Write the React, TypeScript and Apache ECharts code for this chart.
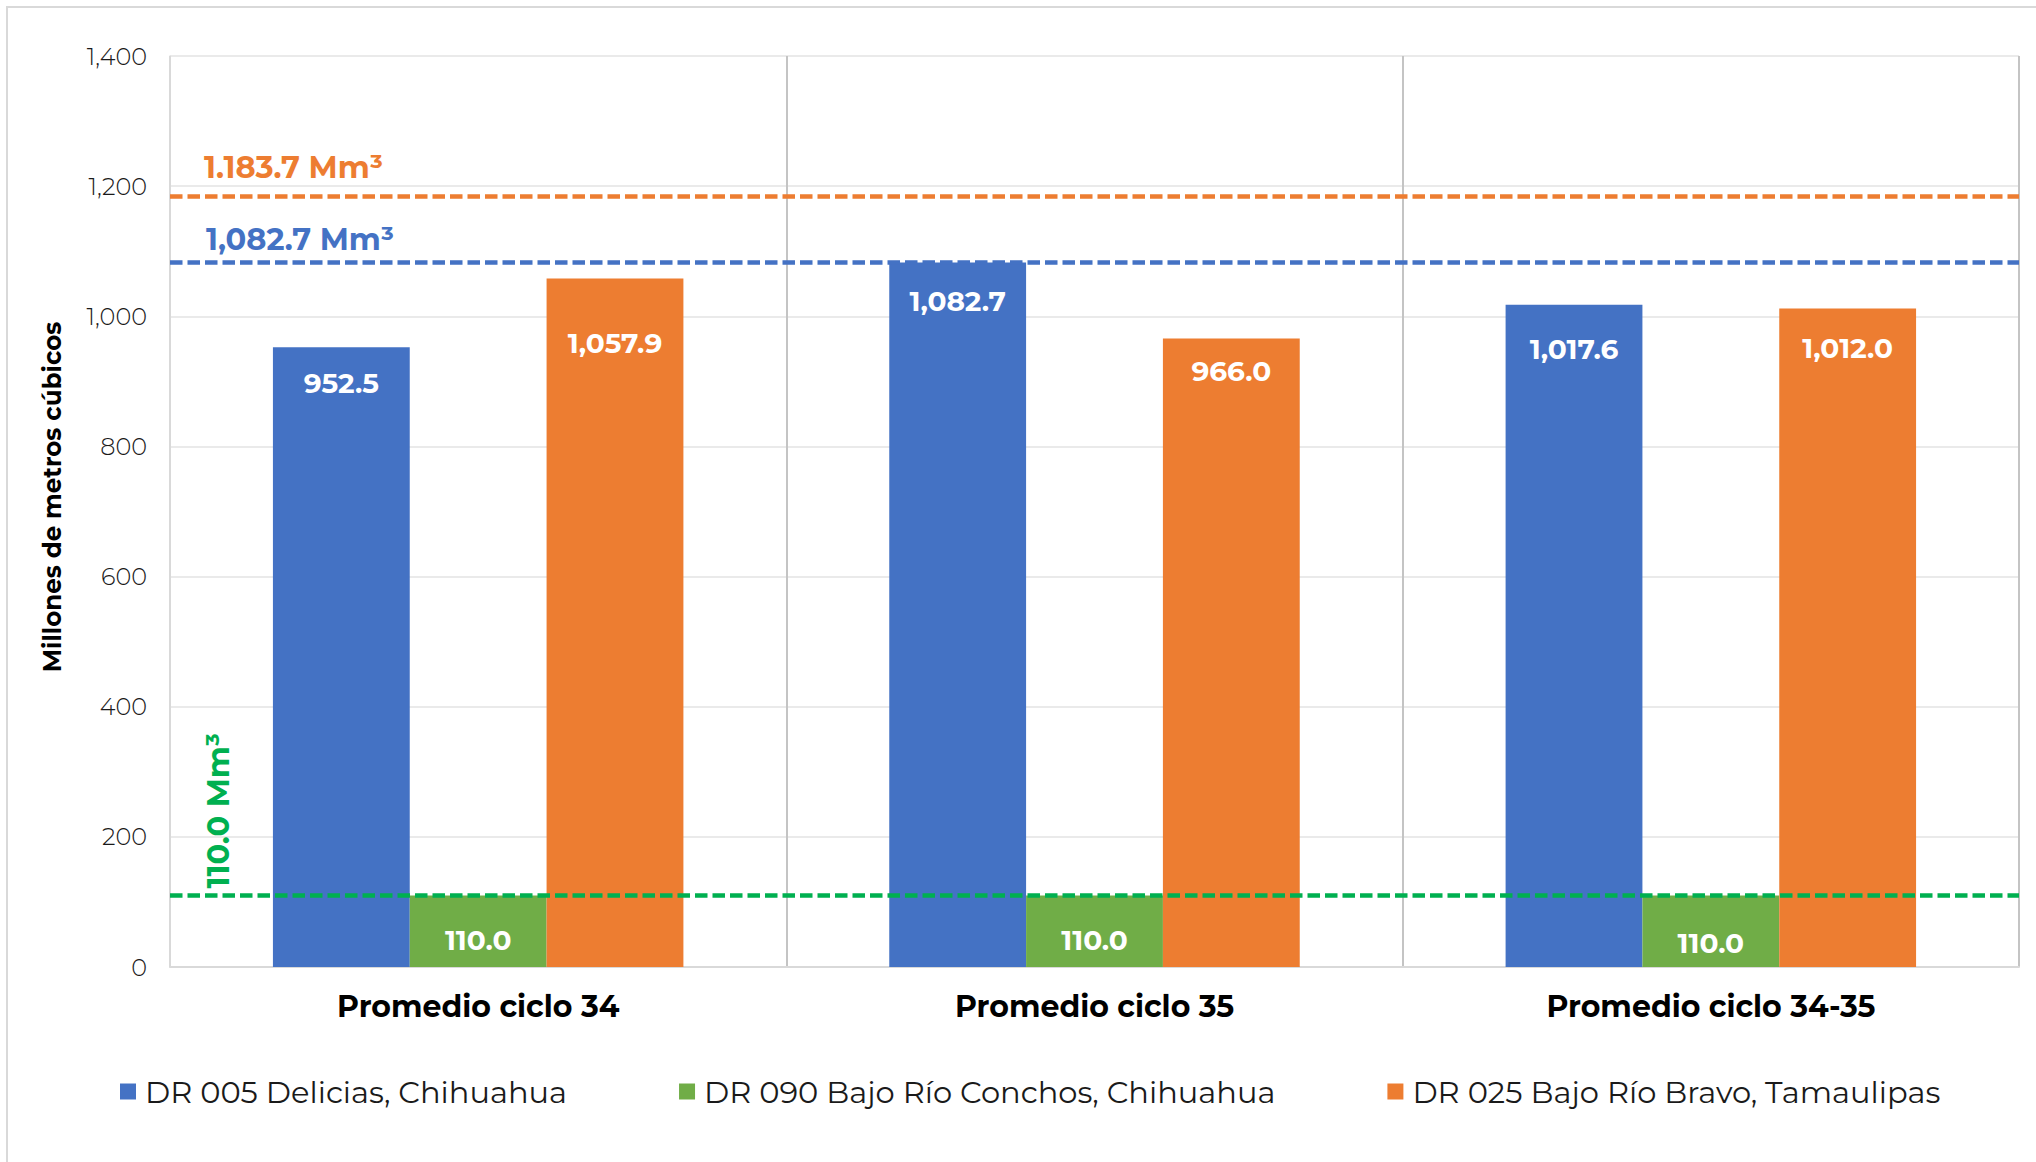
import React, { useEffect, useRef } from "react";
import * as echarts from "echarts";

// ---- data ----
const categories = ["Promedio ciclo 34", "Promedio ciclo 35", "Promedio ciclo 34-35"];
const seriesNames = [
  "DR 005 Delicias, Chihuahua",
  "DR 090 Bajo Río Conchos, Chihuahua",
  "DR 025 Bajo Río Bravo, Tamaulipas",
];
const delicias = [952.5, 1082.7, 1017.6];
const conchos = [110.0, 110.0, 110.0];
const bravo = [1057.9, 966.0, 1012.0];
const refDelicias = 1082.7;
const refConchos = 110.0;
const refBravo = 1183.7;
const refLabelDelicias = "1,082.7 Mm³";
const refLabelConchos = "110.0 Mm³";
const refLabelBravo = "1.183.7 Mm³";
const yAxisTitle = "Millones de metros cúbicos";
const yMin = 0;
const yMax = 1400;
const yStep = 200;

// ---- styles ----
const FONT = "Montserrat, Inter, 'Open Sans', sans-serif";
const BLUE = "#4472C4";
const GREEN = "#70AD47";
const ORANGE = "#ED7D31";
const REF_GREEN = "#00B050";
const GRID_LEFT = 170;
const GRID_RIGHT = 17;
const GRID_TOP = 56;
const GRID_BOTTOM = 195;
const labelDistDelicias = [22, 25, 30];
const labelDistConchos = [31, 31, 34];
const labelDistBravo = [50, 19, 26];

const fmt1 = (v: number) =>
  v.toLocaleString("en-US", { minimumFractionDigits: 1, maximumFractionDigits: 1 });

function makeSeries(name: string, data: number[], color: string, dists: number[], ref: number, refColor: string) {
  return {
    type: "bar",
    name,
    data: data.map((v, i) => ({ value: v, label: { distance: dists[i] } })),
    itemStyle: { color },
    barGap: "0%",
    barCategoryGap: "33.4%",
    label: {
      show: true,
      position: "insideTop",
      color: "#ffffff",
      fontWeight: "bold",
      fontSize: 28,
      fontFamily: FONT,
      formatter: (p: any) => fmt1(p.value),
    },
    markLine: {
      silent: true,
      symbol: "none",
      z: 5,
      label: { show: false },
      lineStyle: { color: refColor, width: 4.5, type: [12.5, 5] },
      data: [{ yAxis: ref }],
    },
  };
}

export default function App() {
  const ref = useRef<HTMLDivElement>(null);
  useEffect(() => {
    document.body.style.margin = "0";
    if (!ref.current) return;
    const chart = echarts.init(ref.current, undefined, { renderer: "svg" });
    const option: any = {
      animation: false,
      backgroundColor: "#ffffff",
      grid: { left: GRID_LEFT, right: GRID_RIGHT, top: GRID_TOP, bottom: GRID_BOTTOM, containLabel: false },
      xAxis: {
        type: "category",
        data: categories,
        boundaryGap: true,
        axisLine: { show: true, lineStyle: { color: "#d9d9d9", width: 2 } },
        axisTick: { show: false },
        splitLine: { show: true, lineStyle: { color: "#c4c4c4", width: 2 } },
        axisLabel: {
          color: "#000000",
          fontSize: 30,
          fontWeight: "bold",
          fontFamily: FONT,
          margin: 24,
        },
      },
      yAxis: {
        type: "value",
        min: yMin,
        max: yMax,
        interval: yStep,
        axisLine: { show: true, lineStyle: { color: "#e0e0e0", width: 1.5 } },
        axisTick: { show: false },
        splitLine: { show: true, lineStyle: { color: "#e3e3e3", width: 1.5 } },
        axisLabel: {
          color: "#1a1a1a",
          fontSize: 24,
          fontWeight: 300,
          fontFamily: FONT,
          margin: 23,
          formatter: (v: number) => v.toLocaleString("en-US"),
        },
      },
      legend: {
        data: seriesNames,
        left: 115,
        top: 1071,
        icon: "rect",
        itemWidth: 16,
        itemHeight: 16,
        itemGap: 112,
        textStyle: { color: "#1a1a1a", fontSize: 30.5, fontFamily: FONT, padding: [0, 0, 0, 4] },
      },
      series: [
        makeSeries(seriesNames[0], delicias, BLUE, labelDistDelicias, refDelicias, BLUE),
        makeSeries(seriesNames[1], conchos, GREEN, labelDistConchos, refConchos, REF_GREEN),
        makeSeries(seriesNames[2], bravo, ORANGE, labelDistBravo, refBravo, ORANGE),
      ],
    };
    chart.setOption(option);
    const yPix = (v: number) => chart.convertToPixel({ yAxisIndex: 0 } as any, v) as number;
    chart.setOption({
      graphic: [
        {
          type: "rect",
          silent: true,
          shape: { x: 7, y: 7, width: 2060, height: 1180 },
          style: { fill: "none", stroke: "#d9d9d9", lineWidth: 2 },
        },
        {
          type: "text",
          x: 52,
          y: 497,
          rotation: Math.PI / 2,
          style: {
            text: yAxisTitle,
            fill: "#000000",
            fontSize: 24.5,
            fontWeight: "bold",
            fontFamily: FONT,
            align: "center",
            verticalAlign: "middle",
          },
        },
        {
          type: "text",
          x: GRID_LEFT + 34,
          y: yPix(refBravo) - 30,
          z: 10,
          style: {
            text: refLabelBravo,
            fill: ORANGE,
            fontSize: 30.5,
            fontWeight: "bold",
            fontFamily: FONT,
            align: "left",
            verticalAlign: "middle",
          },
        },
        {
          type: "text",
          x: GRID_LEFT + 36,
          y: yPix(refDelicias) - 23,
          z: 10,
          style: {
            text: refLabelDelicias,
            fill: BLUE,
            fontSize: 30.5,
            fontWeight: "bold",
            fontFamily: FONT,
            align: "left",
            verticalAlign: "middle",
          },
        },
        {
          type: "text",
          x: GRID_LEFT + 48,
          y: yPix(refConchos) - 7,
          rotation: Math.PI / 2,
          z: 10,
          style: {
            text: refLabelConchos,
            fill: REF_GREEN,
            fontSize: 30.5,
            fontWeight: "bold",
            fontFamily: FONT,
            align: "left",
            verticalAlign: "middle",
          },
        },
      ],
    });
    return () => chart.dispose();
  }, []);
  return <div ref={ref} style={{ width: 2036, height: 1162 }} />;
}
